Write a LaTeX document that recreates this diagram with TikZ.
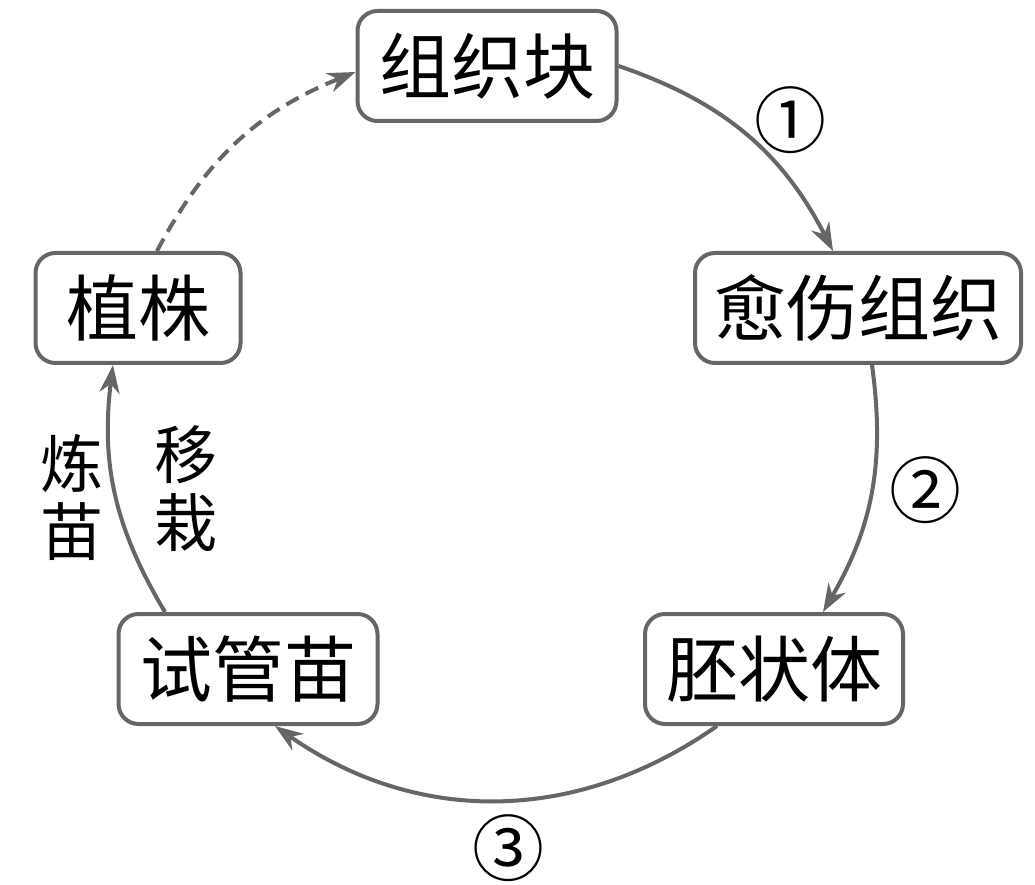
\documentclass[tikz,border=0pt]{standalone}
\usepackage{fontspec}
\newfontfamily\cjk{Noto Sans CJK SC}
\usetikzlibrary{arrows.meta}
\definecolor{linegray}{HTML}{666666}
\tikzset{
  stage/.style={draw=linegray, line width=4pt, rounded corners=20pt,
    minimum height=110pt, inner sep=0pt, font=\cjk\fontsize{72}{72}\selectfont},
  flow/.style={draw=linegray, line width=4pt,
    -{Stealth[length=28pt,width=20pt,inset=9pt]}},
  stepnum/.style={inner sep=0pt, font=\cjk\fontsize{72}{72}\selectfont},
  sidetext/.style={inner sep=0pt, align=center, font=\cjk\fontsize{63}{68}\selectfont},
}
\begin{document}
\begin{tikzpicture}[x=1pt,y=1pt]
\useasboundingbox (0,0) rectangle (1035,884);

% stages
\node[stage, minimum width=259pt] (block) at (487,818) {组织块};
\node[stage, minimum width=326pt] (callus) at (858,576) {愈伤组织};
\node[stage, minimum width=258pt] (embryo) at (774,215) {胚状体};
\node[stage, minimum width=259pt] (seedling) at (248,215) {试管苗};
\node[stage, minimum width=205pt] (plant) at (138,576) {植株};

% cycle
\draw[flow] (block.east) to[bend left=22] ([xshift=-25pt]callus.north);
\draw[flow] ([xshift=14pt]callus.south) to[bend left=19] ([xshift=49pt]embryo.north);
\draw[flow] ([xshift=-57pt]embryo.south) to[bend left=35] ([xshift=27pt]seedling.south);
\draw[flow] ([xshift=-83pt]seedling.north) to[bend left=19] ([xshift=-25pt]plant.south);
\draw[flow, dash pattern=on 14pt off 8pt] ([xshift=19pt]plant.north) to[bend left=20] ([yshift=-6pt]block.west);

% labels
\node[stepnum] (one) at (790,764) {①};
\node[stepnum] (two) at (925,394) {②};
\node[stepnum] (three) at (508,36) {③};
\node[sidetext] (harden) at (72,387) {炼\\苗};
\node[sidetext] (transplant) at (186,395) {移\\栽};

\end{tikzpicture}
\end{document}
